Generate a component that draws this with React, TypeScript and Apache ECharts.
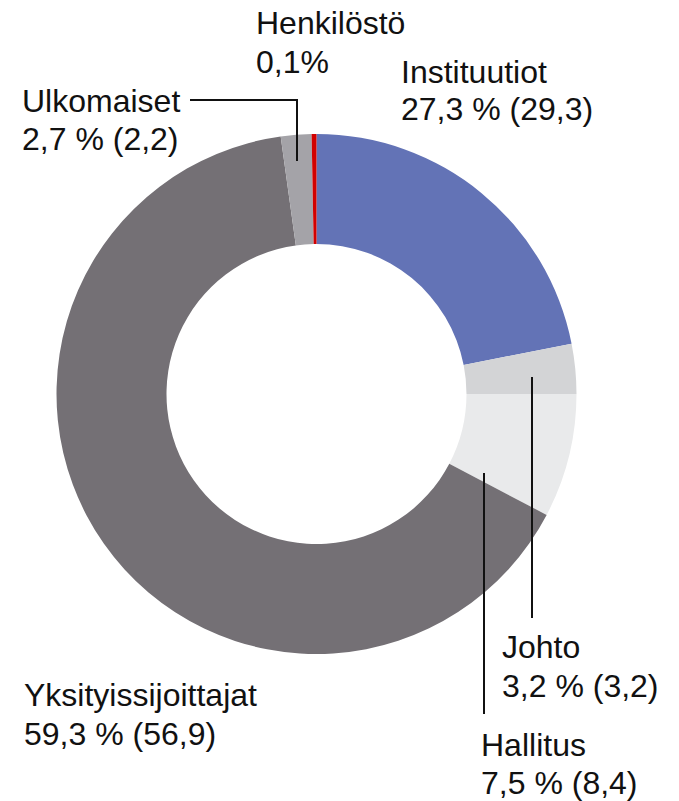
import React, { useEffect, useRef } from "react";
import * as echarts from "echarts";

const categories = ["Instituutiot", "Johto", "Hallitus", "Yksityissijoittajat", "Ulkomaiset", "Henkilöstö"];
const shares = [21.9, 3.1, 7.7, 65.1, 1.9, 0.3];
const labelLines = [
  ["Instituutiot", "27,3 % (29,3)"],
  ["Johto", "3,2 % (3,2)"],
  ["Hallitus", "7,5 % (8,4)"],
  ["Yksityissijoittajat", "59,3 % (56,9)"],
  ["Ulkomaiset", "2,7 % (2,2)"],
  ["Henkilöstö", "0,1%"],
];
const colors = ["#6373b6", "#d3d4d6", "#e9eaeb", "#747075", "#a4a3a8", "#d20000"];

// label anchor: [x, yLine1, yLine2]
const labelPos: [number, number, number][] = [
  [401, 72, 109],
  [502, 647, 686],
  [481, 745, 783],
  [24, 695, 734],
  [22, 101, 139],
  [256, 23, 62],
];

const FONT = "'Liberation Sans', Arial, sans-serif";

export default function App() {
  const ref = useRef<HTMLDivElement>(null);
  useEffect(() => {
    document.body.style.margin = "0";
    const chart = echarts.init(ref.current!, null, { renderer: "svg" });
    const texts: any[] = [];
    labelLines.forEach((lines, i) => {
      const [x, y1, y2] = labelPos[i];
      [y1, y2].forEach((y, k) => {
        texts.push({
          type: "text",
          x,
          y,
          z: 100,
          style: { text: lines[k], fontSize: 32, fontFamily: FONT, fill: "#111", verticalAlign: "middle", align: "left" },
        });
      });
    });
    const lineStyle = { stroke: "#111", lineWidth: 2, fill: "none" };
    chart.setOption({
      animation: false,
      series: [
        {
          type: "pie",
          center: [316.5, 394],
          radius: [150, 260],
          startAngle: 90,
          clockwise: true,
          silent: true,
          z: 1,
          label: { show: false },
          labelLine: { show: false },
          itemStyle: { borderWidth: 0 },
          data: categories.map((name, i) => ({ name, value: shares[i], itemStyle: { color: colors[i] } })),
        },
      ],
      graphic: {
        elements: [
          ...texts,
          { type: "polyline", z: 100, shape: { points: [[190, 100], [297, 100], [297, 161]] }, style: lineStyle },
          { type: "line", z: 100, shape: { x1: 532, y1: 377, x2: 532, y2: 618 }, style: lineStyle },
          { type: "line", z: 100, shape: { x1: 484, y1: 473, x2: 484, y2: 714 }, style: lineStyle },
        ],
      },
    });
    return () => chart.dispose();
  }, []);
  return <div ref={ref} style={{ width: 679, height: 801 }} />;
}
